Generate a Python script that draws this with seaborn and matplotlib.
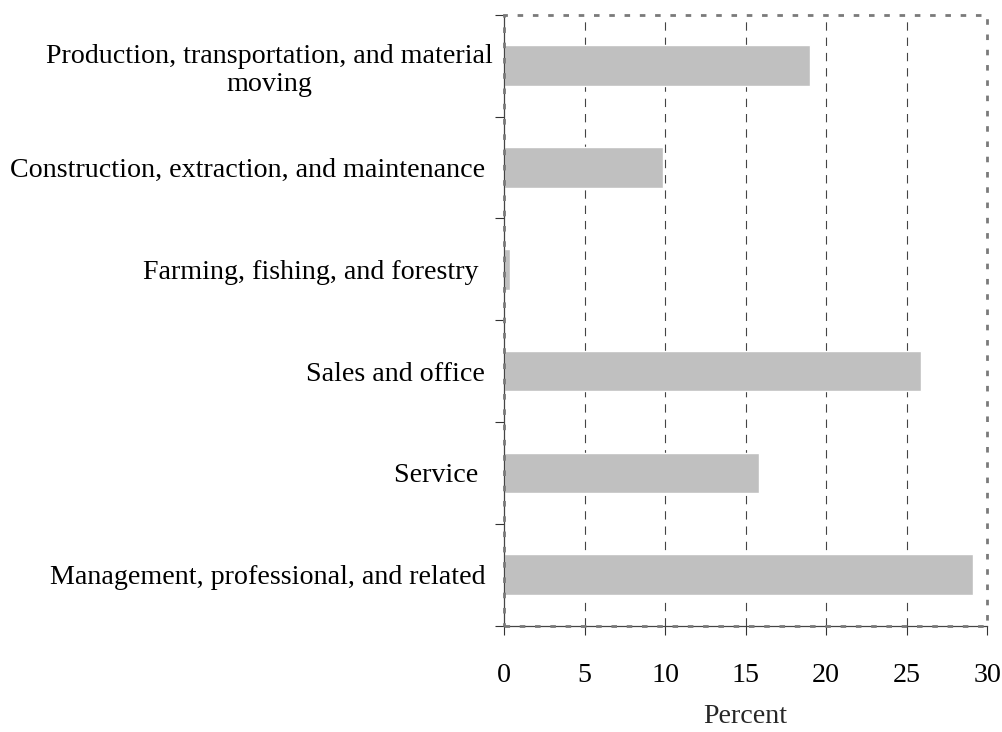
import matplotlib
matplotlib.use("Agg")
import matplotlib.pyplot as plt
import matplotlib.transforms as mtransforms
import seaborn as sns
import pandas as pd
import numpy as np
from matplotlib.patches import Rectangle

categories = [
    "Production, transportation, and material\nmoving",
    "Construction, extraction, and maintenance",
    "Farming, fishing, and forestry ",
    "Sales and office",
    "Service ",
    "Management, professional, and related",
]
values = [19.0, 9.9, 0.4, 25.9, 15.8, 29.1]
xticks = [0, 5, 10, 15, 20, 25, 30]

sns.set_theme(style="white")
plt.rcParams["font.family"] = ["Liberation Serif", "DejaVu Serif"]
plt.rcParams["lines.scale_dashes"] = False

FS = 20.2

df = pd.DataFrame({"cat": categories, "val": values})

fig = plt.figure(figsize=(10.02, 7.32), dpi=100)
ax = fig.add_axes([0.503, 0.1452, 0.4823, 0.8347])

sns.barplot(data=df, x="val", y="cat", orient="h", color="#C0C0C0",
            saturation=1, width=0.4, ax=ax, zorder=2)

ax.set_xlim(0, 30)
ax.set_ylim(5.5, -0.5)
ax.set_xticks(xticks)
ax.set_xticklabels([str(t) for t in xticks], fontsize=FS)
ax.set_yticks(range(len(categories)))
ax.set_yticklabels(categories, fontsize=FS, multialignment="center")
ax.set_yticks(np.arange(-0.5, len(categories), 1.0), minor=True)
ax.tick_params(axis="y", which="major", length=0, pad=13.5, colors="black")
ax.tick_params(axis="y", which="minor", left=True, length=6.5, width=0.8,
               color="#333333", direction="out")
ax.tick_params(axis="x", which="major", bottom=True, length=6.5, width=0.8,
               color="#333333", direction="out", pad=20, colors="black")
ax.tick_params(axis="x", which="major", color="#333333")

# the wrapped first label sits a little further right in the original
lab0 = ax.get_yticklabels()[0]
lab0.set_transform(lab0.get_transform() +
                   mtransforms.ScaledTranslation(7 / 100, 0, fig.dpi_scale_trans))

ax.set_ylabel("")
ax.set_xlabel("Percent", fontsize=FS, labelpad=12)

for x in xticks[1:-1]:
    ax.axvline(x, color="#444444", lw=0.8, ls=(0, (6, 5)), zorder=1)

for s in ["top", "right"]:
    ax.spines[s].set_visible(False)
for s in ["left", "bottom"]:
    ax.spines[s].set_color("#444444")
    ax.spines[s].set_linewidth(0.9)

border = Rectangle((0, 0), 1, 1, transform=ax.transAxes, fill=False,
                   edgecolor="#7a7a7a", lw=2.0, ls=(0, (4, 7)),
                   clip_on=False, zorder=5)
ax.add_patch(border)

fig.savefig("out.png", dpi=100)
